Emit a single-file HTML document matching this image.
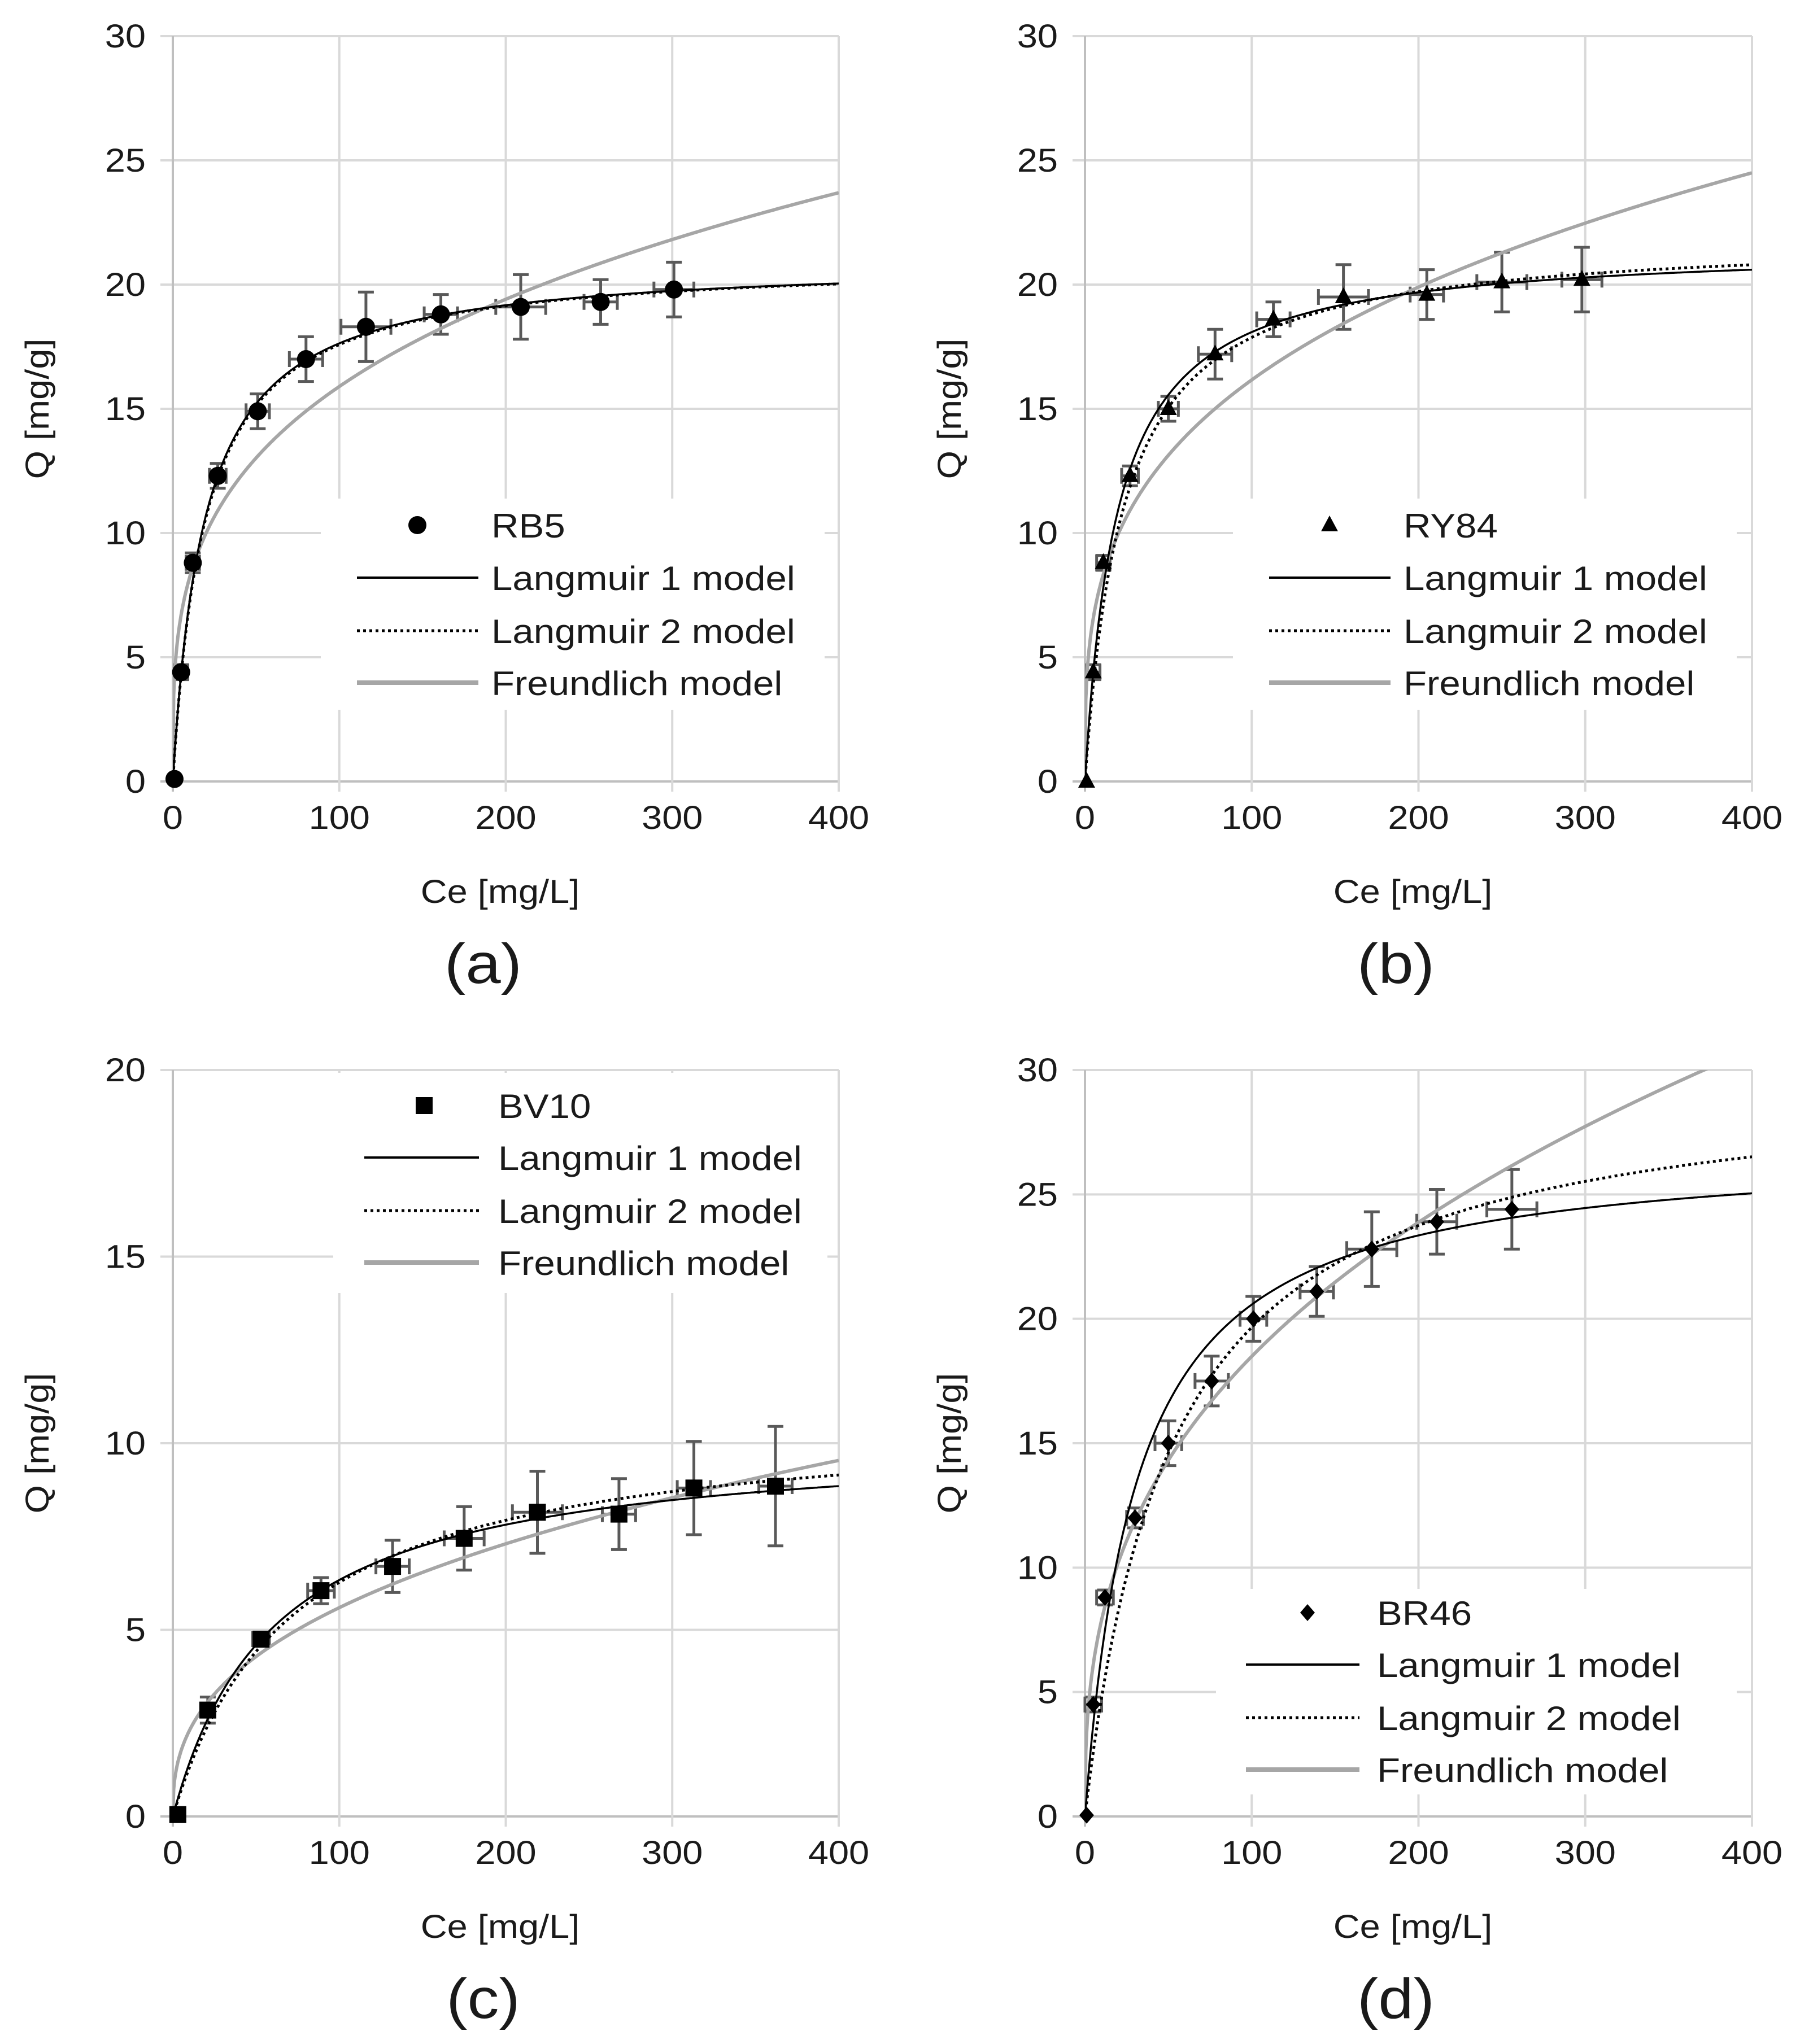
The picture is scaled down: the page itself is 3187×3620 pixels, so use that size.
<!DOCTYPE html>
<html><head><meta charset="utf-8">
<style>
html,body{margin:0;padding:0;background:#fff;}
svg{display:block;font-family:"Liberation Sans",Arial,sans-serif;}
</style></head>
<body>
<svg id="fig" width="3187" height="3620" viewBox="0 0 3187 3620" xmlns="http://www.w3.org/2000/svg"></svg>
<script>
// ---- data: panel (a) RB5
const aCe = [1,5,12,27,51,80,116,161,209,257,301];
const aQ  = [0.1,4.4,8.8,12.3,14.9,17.0,18.3,18.8,19.1,19.3,19.8];
const aQerr = [0,0.3,0.4,0.5,0.7,0.9,1.4,0.8,1.3,0.9,1.1];
const aCeErr = [0,4,4,5,7,10,15,10,15,10,12];
const aL1 = [21.0,0.0524]; const aL2 = [21.0,0.0515]; const aFr = [4.22,0.288];
// ---- data: panel (b) RY84
const bCe = [1,5,11,27,50,78,113,155,205,250,298];
const bQ  = [0.0,4.4,8.8,12.3,15.0,17.2,18.6,19.5,19.6,20.1,20.2];
const bQerr = [0,0.3,0.3,0.4,0.5,1.0,0.7,1.3,1.0,1.2,1.3];
const bCeErr = [0,4,4,5,6,10,10,15,10,15,12];
const bL1 = [21.6,0.0515]; const bL2 = [22.0,0.0433]; const bFr = [4.06,0.30];
// ---- data: panel (c) BV10
const cCe = [3,21,53,89,132,175,219,268,313,362];
const cQ  = [0.05,2.85,4.75,6.05,6.7,7.45,8.15,8.1,8.8,8.85];
const cQerr = [0,0.35,0.15,0.35,0.7,0.85,1.1,0.95,1.25,1.6];
const cCeErr = [0,3,5,8,10,12,15,10,10,10];
const cL1 = [10.2,0.0164]; const cL2 = [10.8,0.01385]; const cFr = [0.95,0.385];
// ---- data: panel (d) BR46
const dCe = [1,5,12,30,50,76,101,139,172,211,256];
const dQ  = [0.05,4.5,8.8,12.0,15.0,17.5,20.0,21.1,22.8,23.9,24.4];
const dQerr = [0,0.3,0.3,0.4,0.9,1.0,0.9,1.0,1.5,1.3,1.6];
const dCeErr = [0,5,5,5,8,10,8,10,15,12,15];
const dL1 = [27.0,0.032]; const dL2 = [30.0,0.019]; const dFr = [3.38,0.369];

const xTicks = [0,100,200,300,400];
const yTicks30 = [0,5,10,15,20,25,30];
const yTicks20 = [0,5,10,15,20];

const NS='http://www.w3.org/2000/svg';
const svg=document.getElementById('fig');
const SX=1.12;
function mk(tag,attrs,parent){const e=document.createElementNS(NS,tag);for(const k in attrs)e.setAttribute(k,attrs[k]);(parent||svg).appendChild(e);return e;}
function txt(parent,x,y,size,anchor,str,rot){
  const tr=`translate(${x} ${y})`+(rot?' rotate(-90)':'')+` scale(${SX} 1)`;
  const t=mk('text',{x:0,y:0,'font-size':size,'text-anchor':anchor,fill:'#1a1a1a',transform:tr},parent);
  t.textContent=str;
  return t;
}

function panel(o){
  const g=mk('g',{});
  
  
  const ymax=o.yTicks[o.yTicks.length-1];
  const sx=v=>o.x0+(v/400)*(o.x1-o.x0);
  const sy=v=>o.y0-(v/ymax)*(o.y0-o.y1);
  o.yTicks.forEach(t=>{
    const l=mk('line',{x1:o.x0-22,x2:o.x1,y1:sy(t),y2:sy(t),stroke:t===0?'#bfbfbf':'#d9d9d9','stroke-width':4},g);
    
    
    const tx=txt(g,o.x0-48,sy(t)+20,58,'end',String(t));
    
    
  });
  xTicks.forEach(t=>{
    const l=mk('line',{x1:sx(t),x2:sx(t),y1:o.y1,y2:o.y0+18,stroke:t===0?'#bfbfbf':'#d9d9d9','stroke-width':4},g);
    
    
    const tx=txt(g,sx(t),o.y0+84,58,'middle',String(t));
    
    
  });
  const lb=mk('rect',{x:o.lbox[0],y:o.lbox[1],width:o.lbox[2]-o.lbox[0],height:o.lbox[3]-o.lbox[1],fill:'#fff'},g);
  
  
  const cid='clip'+o.letter;
  const cp=mk('clipPath',{id:cid},g);
  mk('rect',{x:o.x0,y:o.y1,width:o.x1-o.x0,height:o.y0-o.y1},cp);
  const curve=(f,name,attrs)=>{
    let d='';
    for(let i=0;i<=800;i++){const c=i/2;d+=(i?'L':'M')+sx(c).toFixed(1)+' '+sy(f(c)).toFixed(1);}
    const p=mk('path',Object.assign({d:d,fill:'none','clip-path':'url(#'+cid+')'},attrs),g);
    
    
  };
  o.ce.forEach((c,i)=>{
    const q=o.q[i],eq=o.qerr[i],ec=o.ceerr[i];
    if(eq>0){
      const e=mk('path',{d:`M${sx(c)} ${sy(q-eq)}V${sy(q+eq)}M${sx(c)-14} ${sy(q-eq)}h28M${sx(c)-14} ${sy(q+eq)}h28`,stroke:'#595959','stroke-width':5,fill:'none'},g);
      
      
    }
    if(ec>0){
      const e=mk('path',{d:`M${sx(c-ec)} ${sy(q)}H${sx(c+ec)}M${sx(c-ec)} ${sy(q)-14}v28M${sx(c+ec)} ${sy(q)-14}v28`,stroke:'#595959','stroke-width':5,fill:'none'},g);
      
      
    }
  });
  curve(c=>o.fr[0]*Math.pow(c,o.fr[1]),'freundlich-curve',{stroke:'#a6a6a6','stroke-width':6});
  curve(c=>o.l1[0]*o.l1[1]*c/(1+o.l1[1]*c),'langmuir1-curve',{stroke:'#000','stroke-width':3.5});
  curve(c=>o.l2[0]*o.l2[1]*c/(1+o.l2[1]*c),'langmuir2-curve',{stroke:'#000','stroke-width':5,'stroke-dasharray':'5 6'});
  const marker=(x,y,parent)=>{
    let m;
    if(o.shape==='circle') m=mk('circle',{cx:x,cy:y,r:16,fill:'#000'},parent);
    else if(o.shape==='tri') m=mk('path',{d:`M${x} ${y-17}L${x+15} ${y+11}L${x-15} ${y+11}Z`,fill:'#000'},parent);
    else if(o.shape==='sq') m=mk('rect',{x:x-15,y:y-15,width:30,height:30,fill:'#000'},parent);
    else m=mk('path',{d:`M${x} ${y-15}L${x+13} ${y}L${x} ${y+15}L${x-13} ${y}Z`,fill:'#000'},parent);
    return m;
  };
  o.ce.forEach((c,i)=>{
    const m=marker(sx(c),sy(o.q[i]),g);
    
    
  });
  const L=o.leg;
  const lm=marker(L.mx,L.rows[0],g);
  
  
  const labels=[o.name,'Langmuir 1 model','Langmuir 2 model','Freundlich model'];
  const styles=[null,{stroke:'#000','stroke-width':4},{stroke:'#000','stroke-width':5,'stroke-dasharray':'5 6'},{stroke:'#a6a6a6','stroke-width':8}];
  labels.forEach((t,i)=>{
    if(styles[i]){
      const ln=mk('line',Object.assign({x1:L.lx0,x2:L.lx1,y1:L.rows[i],y2:L.rows[i]},styles[i]),g);
      
      
    }
    const tx=txt(g,L.tx,L.rows[i]+22,60,'start',t);
    
    
  });
  const xt=txt(g,(o.x0+o.x1)/2-10,o.y0+215,58,'middle','Ce [mg/L]');
  
  
  const yc=(o.y0+o.y1)/2, yx=o.x0-220;
  const yt=txt(g,yx,yc,58,'middle','Q [mg/g]',true);
  
  
  const lt=txt(g,(o.x0+o.x1)/2-40,o.y0+357,100,'middle','('+o.letter+')');
  
  
}

panel({letter:'a',name:'RB5',shape:'circle',x0:306,x1:1485,y0:1384,y1:64,yTicks:yTicks30,
  ce:aCe,q:aQ,qerr:aQerr,ceerr:aCeErr,l1:aL1,l2:aL2,fr:aFr,
  lbox:[568,883,1460,1257],leg:{mx:739,lx0:632,lx1:847,tx:870,rows:[930,1023,1117,1209]}});
panel({letter:'b',name:'RY84',shape:'tri',x0:1921,x1:3102,y0:1384,y1:64,yTicks:yTicks30,
  ce:bCe,q:bQ,qerr:bQerr,ceerr:bCeErr,l1:bL1,l2:bL2,fr:bFr,
  lbox:[2183,883,3075,1257],leg:{mx:2354,lx0:2247,lx1:2462,tx:2485,rows:[930,1023,1117,1209]}});
panel({letter:'c',name:'BV10',shape:'sq',x0:306,x1:1485,y0:3217,y1:1895,yTicks:yTicks20,
  ce:cCe,q:cQ,qerr:cQerr,ceerr:cCeErr,l1:cL1,l2:cL2,fr:cFr,
  lbox:[590,1900,1465,2290],leg:{mx:751,lx0:645,lx1:848,tx:882,rows:[1958,2050,2144,2236]}});
panel({letter:'d',name:'BR46',shape:'dia',x0:1921,x1:3102,y0:3217,y1:1895,yTicks:yTicks30,
  ce:dCe,q:dQ,qerr:dQerr,ceerr:dCeErr,l1:dL1,l2:dL2,fr:dFr,
  lbox:[2153,2814,3075,3178],leg:{mx:2315,lx0:2206,lx1:2407,tx:2438,rows:[2856,2948,3042,3134]}});
</script>
</body></html>
